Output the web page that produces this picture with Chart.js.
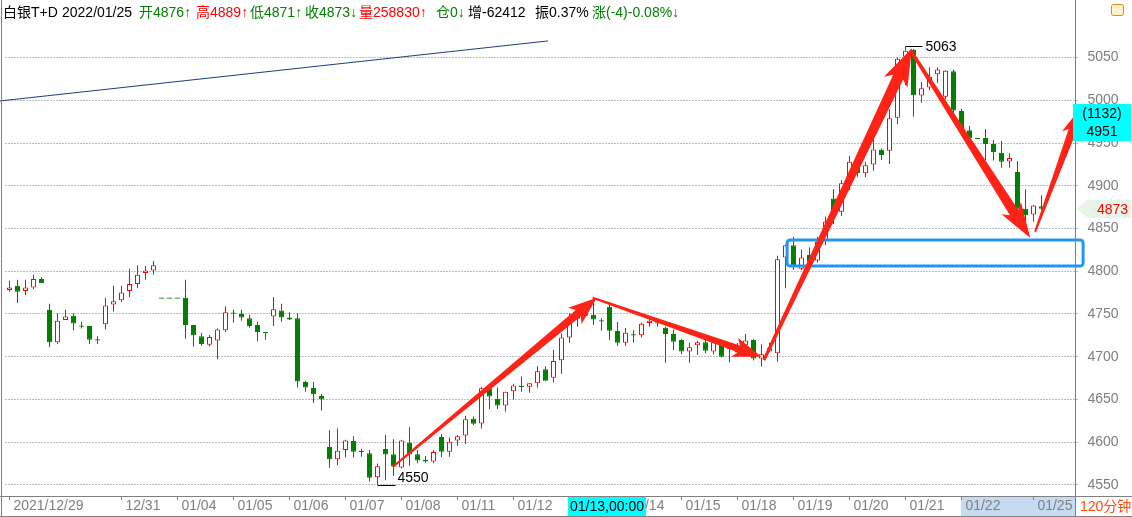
<!DOCTYPE html>
<html>
<head>
<meta charset="utf-8">
<script src="https://cdn.jsdelivr.net/npm/chart.js@4.4.1/dist/chart.umd.min.js"></script>
<style>
  html, body { margin: 0; padding: 0; background: #fff; }
  #wrap { width: 1132px; height: 517px; position: relative; }
</style>
</head>
<body>
<div id="wrap"><canvas id="kline"></canvas></div>
<script>
// 白银T+D 120分钟 K线 (2021/12/29 - 2022/01/25)
const opens = [4778, 4783, 4777, 4781, 4791, 4755, 4717, 4743, 4748, 4736,
  4736, 4720, 4738, 4761, 4766, 4777, 4785, 4798, 4801, 4768.5,
  4768.5, 4768.5, 4769, 4737, 4724, 4714, 4719, 4731, 4751, 4750,
  4745, 4737, 4729, 4747, 4754, 4746, 4745, 4670.5, 4663.5, 4654,
  4594.5, 4580, 4591, 4601.5, 4589, 4587, 4559, 4592, 4586, 4570.5,
  4599.5, 4586, 4579.5, 4577.5, 4606, 4589, 4602, 4608, 4627.5, 4622,
  4663, 4650.5, 4643, 4659.5, 4665.5, 4665, 4669, 4685.5, 4675.5, 4696,
  4722.5, 4744.5, 4748, 4749, 4742.2, 4758.5, 4730, 4716.5, 4725.5, 4725,
  4739.5, 4739.5, 4734, 4726.5, 4719.5, 4706, 4713.5, 4717, 4706, 4716,
  4709, 4712, 4713.5, 4719.5, 4698, 4706, 4704, 4816, 4830.5, 4803,
  4819, 4812.5, 4836.5, 4885, 4869.5, 4904.5, 4928, 4914.5, 4925, 4942,
  4941, 4979.5, 5051, 5059, 5005.5, 5015, 5030.5, 5004, 5034, 4987.5,
  4965, 4955.5, 4956, 4949, 4938.5, 4928.5, 4916, 4873, 4866.5, 4876];
const highs = [4789, 4790, 4790, 4796, 4793, 4762, 4751, 4755, 4751, 4741,
  4736, 4724, 4769, 4783, 4783, 4803, 4807, 4806, 4812, 4768.5,
  4768.5, 4768.5, 4790, 4737, 4728, 4725.5, 4733, 4759, 4755, 4755,
  4749, 4741, 4729, 4770, 4762, 4752, 4751, 4672, 4670.5, 4656.5,
  4614, 4616, 4603, 4607, 4592.5, 4591, 4575, 4608.5, 4603.5, 4602.5,
  4617.5, 4591, 4584, 4591, 4609.5, 4605.5, 4608.5, 4631, 4630, 4665,
  4664, 4664, 4659, 4668.5, 4677, 4669, 4689, 4689, 4708, 4727.5,
  4751, 4753.5, 4758.5, 4767, 4745, 4764, 4740.5, 4733.5, 4731, 4740,
  4746, 4742, 4735.5, 4732, 4720.5, 4716.5, 4718.5, 4719.5, 4718, 4719.5,
  4716, 4716, 4726.5, 4720.5, 4714.5, 4716.5, 4818, 4831, 4840.5, 4825.5,
  4828, 4840.5, 4864, 4896, 4906.5, 4935, 4930, 4928, 4957.5, 4944,
  4989.5, 5050, 5063, 5060, 5021.5, 5038.5, 5038.5, 5035, 5036, 4990,
  4970, 4955.5, 4966.5, 4953.5, 4952.5, 4938, 4929, 4896, 4877.5, 4889];
const lows = [4776, 4763, 4772, 4779, 4786, 4711, 4715, 4743, 4731, 4733,
  4715, 4715, 4732, 4753, 4764, 4770, 4780, 4790, 4796, 4768.5,
  4768.5, 4768.5, 4721, 4712, 4713, 4712, 4697, 4729, 4740, 4742,
  4734, 4718, 4720, 4736, 4741, 4743, 4664, 4659, 4646, 4637,
  4570, 4573, 4582, 4582, 4583, 4554, 4550, 4555.5, 4560.5, 4569.5,
  4572.5, 4575.5, 4576, 4575.5, 4582.5, 4583, 4596, 4598, 4620, 4616,
  4638.5, 4639, 4636, 4650, 4659, 4658, 4664, 4672, 4670, 4680,
  4716.5, 4735, 4747, 4737, 4730.5, 4719.5, 4713, 4713, 4716.5, 4722.5,
  4735, 4735, 4693, 4708, 4703, 4693, 4702, 4704, 4703, 4699,
  4693.5, 4700, 4711, 4695.5, 4688.5, 4706, 4694, 4780, 4801.5, 4801.5,
  4809, 4810, 4830.5, 4855, 4864.5, 4895, 4910.5, 4910, 4917.5, 4930,
  4925.5, 4972, 5018, 4981, 4997, 5012, 5020.5, 5001, 4981, 4963,
  4954.5, 4955.5, 4930, 4929.5, 4921, 4921, 4871, 4848, 4858, 4871];
const closes = [4781, 4776, 4781, 4791, 4786, 4717, 4742, 4747, 4739, 4735.5,
  4720, 4719.5, 4760, 4765, 4775, 4785, 4796, 4801, 4807, 4768.5,
  4768.5, 4768.5, 4737, 4725, 4715, 4723, 4732, 4752, 4751, 4746,
  4736, 4729, 4727.5, 4755.5, 4746, 4743.5, 4671, 4664, 4656, 4650,
  4580, 4590, 4602, 4589, 4589.5, 4558.5, 4572, 4585.5, 4571.5, 4602,
  4586, 4578.5, 4577.5, 4588.5, 4589, 4600.5, 4607, 4627, 4621.5, 4663,
  4653.5, 4643, 4659, 4666.5, 4665, 4669, 4683, 4672, 4695, 4722.5,
  4746, 4749, 4751, 4743.5, 4741.8, 4730.5, 4716.5, 4728, 4725.5, 4738.5,
  4742, 4739.5, 4726.5, 4717.5, 4706, 4711, 4717, 4707, 4717, 4700,
  4713, 4705, 4719, 4698, 4703, 4710, 4814, 4830.5, 4807, 4816,
  4811, 4834.5, 4858, 4869.5, 4903, 4928, 4914.5, 4924, 4942.5, 4936,
  4979, 5048.5, 5058, 5006, 5014, 5027.5, 5036, 5034.5, 4988, 4965,
  4955.5, 4955.5, 4949, 4939.5, 4928, 4932.5, 4873, 4865.5, 4877, 4873];

// 日期分隔 (K线序号) 及底部标签
const dayStart = [0, 14, 21, 28, 35, 42, 49, 56, 63, 70, 77, 84, 91, 98, 105, 112, 119, 128];
const dayText = ['2021/12/29', '12/31', '01/04', '01/05', '01/06', '01/07', '01/08', '01/11',
  '01/12', '01/13', '01/14', '01/15', '01/18', '01/19', '01/20', '01/21', '01/22', '01/25'];
const priceTicks = [4550, 4600, 4650, 4700, 4750, 4800, 4850, 4900, 4950, 5000, 5050];

// 顶部行情栏
const headerText = ['白银T+D', '2022/01/25', '开4876↑', '高4889↑', '低4871↑', '收4873↓',
  '量258830↑', '仓0↓', '增-62412', '振0.37%', '涨(-4)-0.08%↓'];
const headerX = [3, 62, 139, 196, 250, 305, 359, 436, 468, 535, 592];
const headerCol = ['#000', '#000', '#008000', '#ff0000', '#008000', '#008000',
  '#ff0000', '#008000', '#000', '#000', '#008000'];

// 画线 (K线序号, 价格)
const arrowPath = [
  [47.9, 4571, 73.4, 4769],
  [72.9, 4769, 94.0, 4700],
  [94.3, 4696, 112.8, 5061],
  [112.6, 5059, 127.6, 4839],
  [128.2, 4846, 133.9, 4991]
];
const arrowSize = [[2, 8, 24, 21], [2, 7, 24, 20], [3, 11, 32, 26], [3, 10, 30, 23], [2, 8, 24, 19]];
const trendLine = [[-1.2, 4999.2], [67.3, 5069.4]];
const zoneBox = [97.2, 134.2, 4836.5, 4806];

const GREEN = '#008000', RED = '#ff0000';
const FONT = "'Liberation Sans', Arial, 'Noto Sans CJK SC', sans-serif";
Chart.defaults.font.family = FONT;
Chart.defaults.font.size = 14;

const slots = Array.from({ length: 134 }, (_, i) => String(i));
const isUp = i => closes[i] > opens[i];
const wickData = opens.map((_, i) => [lows[i], highs[i]]);
const bodyData = opens.map((o, i) => {
  let lo = Math.min(o, closes[i]), hi = Math.max(o, closes[i]);
  if (hi - lo < 1.4) { const m = (hi + lo) / 2; lo = m - 0.7; hi = m + 0.7; }
  return [lo, hi];
});
const lineCol = opens.map((_, i) => isUp(i) ? RED : GREEN);
const fillCol = opens.map((_, i) => isUp(i) ? '#ffffff' : GREEN);

function drawArrow(c, x0, y0, x1, y1, w0, w1, hl, hw) {
  const L = Math.hypot(x1 - x0, y1 - y0);
  const ux = (x1 - x0) / L, uy = (y1 - y0) / L, nx = -uy, ny = ux;
  const bx = x1 - ux * hl, by = y1 - uy * hl;
  const notch = hl * 0.18;
  c.beginPath();
  c.moveTo(x0 + nx * w0 / 2, y0 + ny * w0 / 2);
  c.lineTo(bx + nx * w1 / 2, by + ny * w1 / 2);
  c.lineTo(bx - ux * notch + nx * hw / 2, by - uy * notch + ny * hw / 2);
  c.lineTo(x1, y1);
  c.lineTo(bx - ux * notch - nx * hw / 2, by - uy * notch - ny * hw / 2);
  c.lineTo(bx - nx * w1 / 2, by - ny * w1 / 2);
  c.lineTo(x0 - nx * w0 / 2, y0 - ny * w0 / 2);
  c.closePath();
  c.fill();
}

const overlay = {
  id: 'overlay',
  beforeDraw(chart) {
    const c = chart.ctx;
    c.save();
    c.fillStyle = '#ffffff';
    c.fillRect(0, 0, chart.width, chart.height);
    c.fillStyle = '#c6dbf2';
    c.fillRect(961, 497, 114, 19);
    c.restore();
  },
  afterDatasetsDraw(chart) {
    const c = chart.ctx, xs = chart.scales.x, ys = chart.scales.y;
    const px = v => xs.getPixelForValue(v), py = v => ys.getPixelForValue(v);
    c.save();
    // 趋势线
    c.strokeStyle = '#1c3f80';
    c.lineWidth = 1;
    c.beginPath();
    c.moveTo(px(trendLine[0][0]), py(trendLine[0][1]));
    c.lineTo(px(trendLine[1][0]), py(trendLine[1][1]));
    c.stroke();
    // 支撑框
    const bx0 = px(zoneBox[0]), bx1 = px(zoneBox[1]), by0 = py(zoneBox[2]), by1 = py(zoneBox[3]);
    c.strokeStyle = '#2196f3';
    c.lineWidth = 3;
    c.beginPath();
    c.roundRect(bx0, by0, bx1 - bx0, by1 - by0, 3);
    c.stroke();
    // 箭头
    c.fillStyle = '#ff2216';
    arrowPath.forEach((a, k) => {
      const s = arrowSize[k];
      drawArrow(c, px(a[0]), py(a[1]), px(a[2]), py(a[3]), s[0], s[1], s[2], s[3]);
    });
    // 最高/最低标记
    let hiI = 0, loI = 0;
    highs.forEach((h, i) => { if (h > highs[hiI]) hiI = i; });
    lows.forEach((l, i) => { if (l < lows[loI]) loI = i; });
    c.strokeStyle = '#000';
    c.lineWidth = 1;
    c.fillStyle = '#000';
    c.font = '14px ' + FONT;
    c.textAlign = 'left';
    let x = px(hiI), y = Math.round(py(highs[hiI])) + 0.5;
    c.beginPath(); c.moveTo(x, y); c.lineTo(x + 17, y); c.stroke();
    c.textBaseline = 'middle';
    c.fillText(String(highs[hiI]), x + 20, y + 1);
    x = px(loI); y = Math.round(py(lows[loI])) + 0.5;
    c.beginPath(); c.moveTo(x, y); c.lineTo(x + 18, y); c.stroke();
    c.textBaseline = 'alphabetic';
    c.fillText(String(lows[loI]), x + 20, y - 4);
    c.restore();
  },
  afterDraw(chart) {
    const c = chart.ctx;
    c.save();
    // 边框
    c.strokeStyle = '#808080';
    c.lineWidth = 1;
    c.beginPath();
    c.moveTo(1.5, 0); c.lineTo(1.5, 517);
    c.moveTo(1075.5, 0); c.lineTo(1075.5, 517);
    c.moveTo(0, 496.5); c.lineTo(1132, 496.5);
    c.moveTo(0, 516.5); c.lineTo(1132, 516.5);
    c.stroke();
    // 行情栏
    c.font = '14px ' + FONT;
    c.textBaseline = 'middle';
    c.textAlign = 'left';
    headerText.forEach((t, i) => { c.fillStyle = headerCol[i]; c.fillText(t, headerX[i], 13); });
    // 右上角图标
    c.fillStyle = '#fff2c8';
    c.strokeStyle = '#d98a1c';
    c.beginPath(); c.roundRect(1111.5, 4.5, 12, 11, 2); c.fill(); c.stroke();
    // 十字光标标签
    c.fillStyle = '#00ffff';
    c.fillRect(1073, 104, 58, 37);
    c.fillRect(568, 497, 78, 19);
    c.fillStyle = '#000';
    c.textAlign = 'center';
    c.fillText('(1132)', 1102, 114);
    c.fillText('4951', 1102, 132);
    c.fillText('01/13,00:00', 607, 507);
    // 最新价标签
    const yl = chart.scales.y.getPixelForValue(closes[closes.length - 1]);
    c.fillStyle = '#e8f4e8';
    c.beginPath();
    c.moveTo(1077, yl); c.lineTo(1087, yl - 9); c.lineTo(1131, yl - 9);
    c.lineTo(1131, yl + 9); c.lineTo(1087, yl + 9); c.closePath(); c.fill();
    c.fillStyle = '#ff0000';
    c.textAlign = 'left';
    c.fillText(String(closes[closes.length - 1]), 1097, yl + 1);
    // 周期
    c.fillStyle = '#ff4a0a';
    c.fillText('120分钟', 1080, 507);
    c.restore();
  }
};

new Chart(document.getElementById('kline'), {
  type: 'bar',
  data: {
    labels: slots,
    datasets: [
      {
        label: 'wick', data: wickData, backgroundColor: lineCol, borderWidth: 0,
        barThickness: 1, grouped: false, order: 2, inflateAmount: 0
      },
      {
        label: 'body', data: bodyData, backgroundColor: fillCol, borderColor: lineCol,
        borderWidth: 1, borderSkipped: false, barThickness: 5, grouped: false, order: 1, inflateAmount: 0
      }
    ]
  },
  options: {
    responsive: true,
    maintainAspectRatio: false,
    animation: false,
    layout: { padding: { left: 5.5, top: 0, right: 0, bottom: 0 } },
    plugins: { legend: { display: false }, tooltip: { enabled: false } },
    scales: {
      x: {
        grid: {
          drawOnChartArea: false, drawTicks: true, tickLength: 4, offset: false,
          color: ctx => dayStart.includes(ctx.index) ? '#808080' : 'rgba(0,0,0,0)'
        },
        border: { display: false },
        ticks: {
          autoSkip: false, maxRotation: 0, minRotation: 0, align: 'start', padding: -2,
          color: '#7f7f7f', font: { size: 14 },
          callback: (v, i) => { const k = dayStart.indexOf(i); return k >= 0 ? ' ' + dayText[k] : ''; }
        },
        afterFit: s => { s.height = 21; s.paddingLeft = 0; s.paddingRight = 0; }
      },
      y: {
        position: 'right',
        min: 4537.1,
        max: 5117.3,
        grid: { color: '#7a7a7a', lineWidth: 1, drawTicks: false },
        border: { display: false, dash: [1, 2] },
        afterBuildTicks: s => { s.ticks = priceTicks.map(v => ({ value: v })); },
        ticks: { padding: 10, color: '#7f7f7f', font: { size: 14 }, callback: v => String(v) },
        afterFit: s => { s.width = 54.5; s.paddingTop = 0; s.paddingBottom = 0; }
      }
    }
  },
  plugins: [overlay]
});
</script>
</body>
</html>
